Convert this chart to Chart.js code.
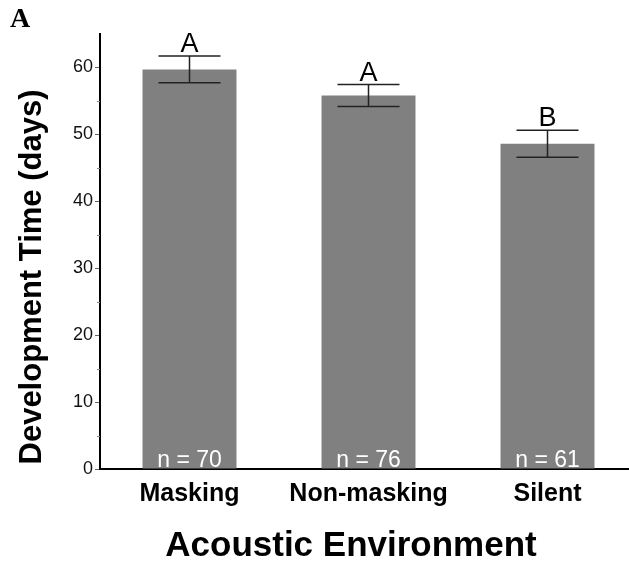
<!DOCTYPE html>
<html>
<head>
<meta charset="utf-8">
<script src="https://cdn.jsdelivr.net/npm/chart.js@4/dist/chart.umd.min.js"></script>
<style>
  html, body { margin: 0; padding: 0; background: #fff; overflow: hidden; }
  #wrap { width: 640px; height: 567px; }
</style>
</head>
<body>
<div id="wrap"><canvas id="devChart" width="640" height="567"></canvas></div>
<script>
// data
const categories = ['Masking', 'Non-masking', 'Silent'];
const meanDays = [59.7, 55.8, 48.6];
const errDays = [2.0, 1.65, 2.0];
const groupLetters = ['A', 'A', 'B'];
const sampleSizes = [70, 76, 61];
const yTicksMajor = [0, 10, 20, 30, 40, 50, 60];

const SANS = 'Helvetica, Arial, "Liberation Sans", sans-serif';

const annotate = {
  id: 'annotate',
  afterDatasetsDraw(chart) {
    const ctx = chart.ctx;
    const y = chart.scales.y;
    const bars = chart.getDatasetMeta(0).data;
    ctx.save();

    // minor ticks at 5s
    ctx.strokeStyle = '#888';
    ctx.lineWidth = 1;
    for (let v = 5; v < 65; v += 10) {
      const py = Math.round(y.getPixelForValue(v)) + 0.5;
      ctx.beginPath();
      ctx.moveTo(y.right - 3, py);
      ctx.lineTo(y.right, py);
      ctx.stroke();
    }

    bars.forEach((bar, i) => {
      const x = bar.x;
      const top = y.getPixelForValue(meanDays[i] + errDays[i]);
      const bot = y.getPixelForValue(meanDays[i] - errDays[i]);
      const half = bar.width * 0.33;

      // error bar
      ctx.strokeStyle = '#222';
      ctx.lineWidth = 1.5;
      ctx.beginPath();
      ctx.moveTo(x, top); ctx.lineTo(x, bot);
      ctx.moveTo(x - half, top); ctx.lineTo(x + half, top);
      ctx.moveTo(x - half, bot); ctx.lineTo(x + half, bot);
      ctx.stroke();

      // significance letter
      ctx.fillStyle = '#000';
      ctx.font = '27px ' + SANS;
      ctx.textAlign = 'center';
      ctx.textBaseline = 'alphabetic';
      ctx.fillText(groupLetters[i], x, top - 4);

      // sample size inside bar
      ctx.fillStyle = '#fff';
      ctx.font = '23px ' + SANS;
      ctx.fillText('n = ' + sampleSizes[i], x, y.getPixelForValue(0) - 2);
    });

    // axis titles
    ctx.fillStyle = '#000';
    ctx.font = 'bold 35px ' + SANS;
    ctx.textAlign = 'center';
    ctx.textBaseline = 'middle';
    ctx.fillText('Acoustic Environment', 351, 546);

    ctx.save();
    ctx.translate(32, 277);
    ctx.rotate(-Math.PI / 2);
    ctx.font = 'bold 31px ' + SANS;
    ctx.fillText('Development Time (days)', 0, 0);
    ctx.restore();

    // panel label
    ctx.font = 'bold 28px "Liberation Serif", "Times New Roman", serif';
    ctx.textAlign = 'left';
    ctx.textBaseline = 'alphabetic';
    ctx.fillText('A', 10, 27);

    ctx.restore();
  }
};

new Chart(document.getElementById('devChart'), {
  type: 'bar',
  data: {
    labels: categories,
    datasets: [{
      label: 'Development Time (days)',
      data: meanDays,
      backgroundColor: '#808080',
      borderWidth: 0,
      barPercentage: 0.525,
      categoryPercentage: 1.0
    }]
  },
  options: {
    responsive: false,
    animation: false,
    layout: { padding: { left: 0, top: 34, right: 3, bottom: 0 } },
    plugins: {
      legend: { display: false },
      tooltip: { enabled: false }
    },
    scales: {
      x: {
        afterFit: (s) => { s.height = 98; },
        grid: { display: false, drawTicks: false },
        border: { display: true, color: '#000', width: 2 },
        ticks: {
          color: '#000',
          padding: 10,
          font: { family: SANS, size: 25, weight: 'bold' }
        }
      },
      y: {
        min: 0,
        max: 65,
        afterFit: (s) => { s.width = 100; },
        afterBuildTicks: (s) => {
          s.ticks = yTicksMajor.map(v => ({ value: v }));
        },
        grid: {
          drawOnChartArea: false,
          drawTicks: true,
          tickLength: 5,
          tickColor: '#666',
          tickWidth: 1
        },
        border: { display: true, color: '#000', width: 2 },
        ticks: {
          color: '#111',
          padding: 2,
          font: { family: SANS, size: 18 }
        }
      }
    }
  },
  plugins: [annotate]
});
</script>
</body>
</html>
